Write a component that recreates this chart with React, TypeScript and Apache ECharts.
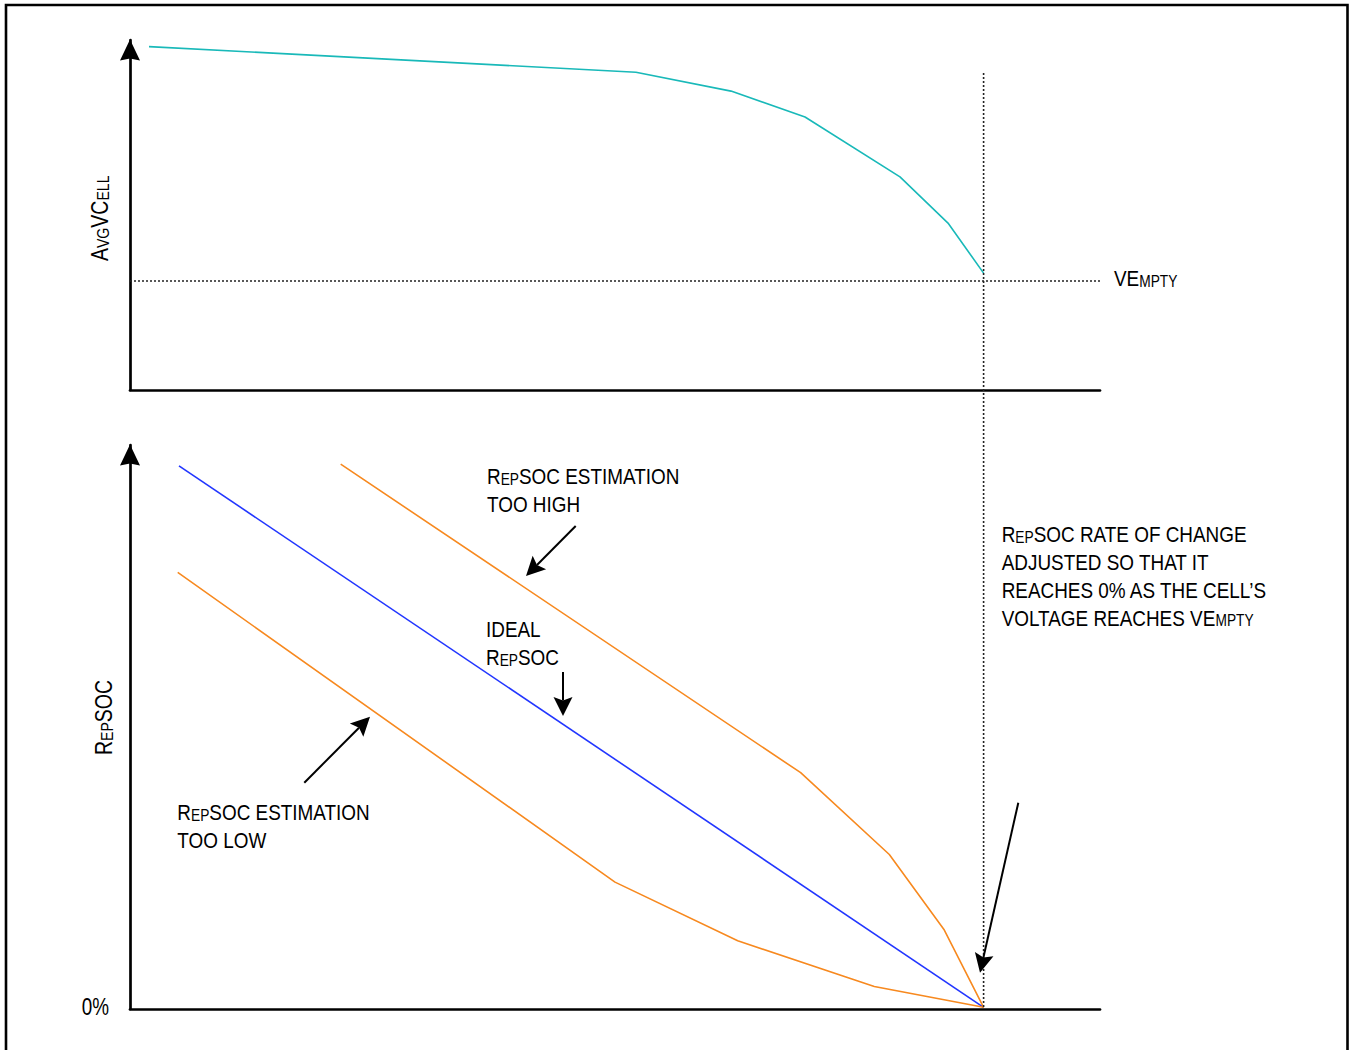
import React, { useEffect, useRef } from "react";
import * as echarts from "echarts";

const FONT = '"Liberation Sans Narrow", "Arial Narrow", "Liberation Sans", Arial, sans-serif';
const NARROW = 0.86;

// Top panel: AvgVCell discharge curve (x: 0..100 time, y: 0..100 relative voltage)
const cellX = [1.96, 52.16, 61.96, 69.59, 79.38, 84.33, 88.0];
const cellY = [98.1, 90.8, 85.4, 78.0, 60.9, 47.7, 33.4];
const vEmptyLevel = 31.2;
const emptyX = 88.0;
const dividerTop = 90.6;

// Bottom panel: RepSOC estimations
const idealX = [5.05, 88.0];
const idealY = [96.3, 0.3];
const highX = [21.72, 69.14, 78.28, 83.95, 88.0];
const highY = [96.6, 41.9, 27.4, 14.0, 0.3];
const lowX = [4.92, 50.0, 62.65, 76.73, 88.0];
const lowY = [77.4, 22.5, 12.1, 4.0, 0.3];
const zeroTick = "0%";

const zip = (xs: number[], ys: number[]) => xs.map((x, i) => [x, ys[i]]);

const ANN = 22;
const ANN_S = 16;
const LH = 27.7;
const LH_S = LH - 2 * 0.35 * (ANN - ANN_S);
const richAnn = {
  a: { fontFamily: FONT, fontSize: ANN, lineHeight: LH, verticalAlign: "bottom", fill: "#000", color: "#000" },
  b: { fontFamily: FONT, fontSize: ANN_S, lineHeight: LH_S, verticalAlign: "bottom", fill: "#000", color: "#000" },
};
const AX = 23.5;
const AX_S = 17;
const ALH = 28;
const richAx = {
  c: { fontFamily: FONT, fontSize: AX, lineHeight: ALH, verticalAlign: "bottom", fill: "#000", color: "#000" },
  d: { fontFamily: FONT, fontSize: AX_S, lineHeight: ALH - 2 * 0.35 * (AX - AX_S), verticalAlign: "bottom", fill: "#000", color: "#000" },
};

function arrow(x1: number, y1: number, x2: number, y2: number, L = 19, W = 9.5) {
  const dx = x2 - x1, dy = y2 - y1;
  const len = Math.hypot(dx, dy);
  const ux = dx / len, uy = dy / len;
  const nx = -uy, ny = ux;
  const bx = x2 - ux * L, by = y2 - uy * L;
  const mx = x2 - ux * L * 0.82, my = y2 - uy * L * 0.82;
  return [
    { type: "line", shape: { x1, y1, x2: mx, y2: my }, style: { stroke: "#000", lineWidth: 2 }, z: 20 },
    {
      type: "polygon",
      shape: { points: [[x2, y2], [bx + nx * W, by + ny * W], [mx, my], [bx - nx * W, by - ny * W]] },
      style: { fill: "#000" },
      z: 20,
    },
  ];
}

// baseline is the baseline of the first line
function annText(x: number, baseline: number, text: string) {
  return {
    type: "text",
    x,
    y: baseline - 24,
    scaleX: NARROW,
    z: 20,
    style: { text, rich: richAnn, fill: "#000", align: "left", verticalAlign: "top", textAlign: "left", textVerticalAlign: "top" },
  };
}

function axName(x: number, y: number, text: string) {
  return {
    type: "text",
    x,
    y,
    rotation: Math.PI / 2,
    scaleX: 0.83,
    z: 20,
    style: { text, rich: richAx, fill: "#000", align: "center", verticalAlign: "middle", textAlign: "center", textVerticalAlign: "middle" },
  };
}

const axisLineStyle = { color: "#000", width: 2.7 };

const xAxisBase = {
  type: "value",
  min: 0,
  max: 100,
  axisLine: { show: true, onZero: false, lineStyle: axisLineStyle },
  axisTick: { show: false },
  axisLabel: { show: false },
  splitLine: { show: false },
};

const yAxisBase = {
  type: "value",
  min: 0,
  max: 100,
  interval: 100,
  axisLine: {
    show: true,
    onZero: false,
    lineStyle: axisLineStyle,
    symbol: ["none", "path://M10,0 L20,21 L10,19 L0,21 Z"],
    symbolSize: [20, 21],
    symbolOffset: [0, -10],
  },
  axisTick: { show: false },
  axisLabel: { show: false },
  splitLine: { show: false },
};

const option: any = {
  animation: false,
  backgroundColor: "#fff",
  grid: [
    { left: 130, top: 40, width: 970, height: 350 },
    { left: 130, top: 445, width: 970, height: 564 },
  ],
  xAxis: [
    { ...xAxisBase, gridIndex: 0 },
    { ...xAxisBase, gridIndex: 1 },
  ],
  yAxis: [
    { ...yAxisBase, gridIndex: 0 },
    { ...yAxisBase, gridIndex: 1 },
  ],
  series: [
    {
      name: "AvgVCell",
      type: "line",
      xAxisIndex: 0,
      yAxisIndex: 0,
      data: zip(cellX, cellY),
      showSymbol: false,
      lineStyle: { color: "#19B9B9", width: 1.6 },
      itemStyle: { color: "#19B9B9" },
      markLine: {
        silent: true,
        symbol: ["none", "none"],
        lineStyle: { color: "#222", type: [2, 2], width: 1.6 },
        label: { show: false },
        data: [{ yAxis: vEmptyLevel }],
      },
    },
    {
      name: "Ideal RepSOC",
      type: "line",
      xAxisIndex: 1,
      yAxisIndex: 1,
      data: zip(idealX, idealY),
      showSymbol: false,
      lineStyle: { color: "#2236FF", width: 1.6 },
      itemStyle: { color: "#2236FF" },
    },
    {
      name: "RepSOC too high",
      type: "line",
      xAxisIndex: 1,
      yAxisIndex: 1,
      data: zip(highX, highY),
      showSymbol: false,
      lineStyle: { color: "#F7891F", width: 1.6 },
      itemStyle: { color: "#F7891F" },
    },
    {
      name: "RepSOC too low",
      type: "line",
      xAxisIndex: 1,
      yAxisIndex: 1,
      data: zip(lowX, lowY),
      showSymbol: false,
      lineStyle: { color: "#F7891F", width: 1.6 },
      itemStyle: { color: "#F7891F" },
    },
  ],
};

export default function App() {
  const ref = useRef<HTMLDivElement>(null);
  useEffect(() => {
    if (!ref.current) return;
    const chart = echarts.init(ref.current, null, { renderer: "svg" });
    chart.setOption(option);
    const px = chart.convertToPixel({ xAxisIndex: 0 }, emptyX) as number;
    const pyTop = chart.convertToPixel({ yAxisIndex: 0 }, dividerTop) as number;
    const pyEmpty = chart.convertToPixel({ yAxisIndex: 0 }, vEmptyLevel) as number;
    const pyBot = chart.convertToPixel({ yAxisIndex: 1 }, 0) as number;
    const gridRight = chart.convertToPixel({ xAxisIndex: 0 }, 100) as number;
    const gridLeft = chart.convertToPixel({ xAxisIndex: 1 }, 0) as number;
    const graphic: any[] = [
      {
        type: "rect",
        shape: { x: 6, y: 5, width: 1341.5, height: 1060 },
        style: { fill: "none", stroke: "#000", lineWidth: 2.6 },
        z: 30,
      },
      {
        type: "line",
        shape: { x1: px, y1: pyTop, x2: px, y2: pyBot - 1 },
        style: { stroke: "#222", lineWidth: 1.6, lineDash: [2, 2] },
        z: 15,
      },
      annText(gridRight + 14, pyEmpty + 4.3, "{a|VE}{b|MPTY}"),
      {
        type: "text",
        x: gridLeft - 21,
        y: pyBot - 2.3,
        scaleX: 0.82,
        z: 20,
        style: {
          text: zeroTick,
          fontFamily: FONT,
          fontSize: 23,
          fill: "#000",
          align: "right",
          verticalAlign: "middle",
          textAlign: "right",
          textVerticalAlign: "middle",
        },
      },
      axName(97.8, 218.3, "{c|A}{d|VG}{c|VC}{d|ELL}"),
      axName(102, 717.5, "{c|R}{d|EP}{c|SOC}"),
      annText(487, 483.3, "{a|R}{b|EP}{a|SOC ESTIMATION}\n{a|TOO HIGH}"),
      annText(486, 636.7, "{a|IDEAL}\n{a|R}{b|EP}{a|SOC}"),
      annText(177.3, 819.3, "{a|R}{b|EP}{a|SOC ESTIMATION}\n{a|TOO LOW}"),
      annText(
        1001.7,
        541.7,
        "{a|R}{b|EP}{a|SOC RATE OF CHANGE}\n{a|ADJUSTED SO THAT IT}\n{a|REACHES 0% AS THE CELL’S}\n{a|VOLTAGE REACHES VE}{b|MPTY}"
      ),
      ...arrow(575.7, 526, 526, 576),
      ...arrow(563, 672, 563, 716),
      ...arrow(304.3, 782.7, 370, 716.7),
      ...arrow(1018.3, 802.7, 980, 972.7),
    ];
    chart.setOption({ graphic });
    return () => chart.dispose();
  }, []);
  return (
    <div
      ref={ref}
      style={{ position: "fixed", left: 0, top: 0, width: 1350, height: 1050, background: "#fff" }}
    />
  );
}
